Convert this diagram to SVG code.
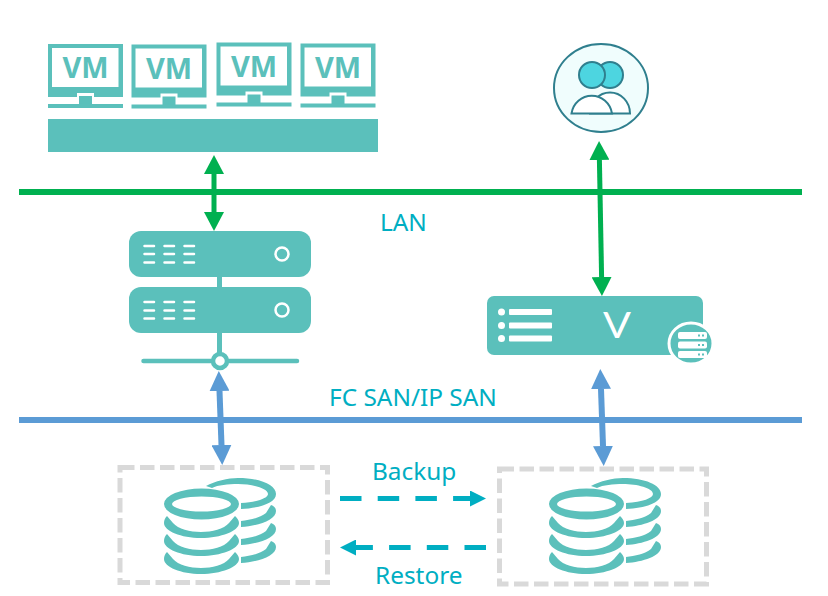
<svg xmlns="http://www.w3.org/2000/svg" xmlns:xlink="http://www.w3.org/1999/xlink" width="828" height="596" viewBox="0 0 828 596">
  <style>
    .teal { fill: #5bc0bb; }
    .white { fill: #ffffff; }
    .label { font-family: "Noto Sans", "Open Sans", sans-serif; font-size: 24.400px; fill: #00aec2; }
    .vm { font-family: "Open Sans", "Liberation Sans", sans-serif; font-weight: 700; font-size: 29px; fill: #5bc0bb; text-anchor: middle; }
    .box { fill: none; stroke: #d9d9d9; stroke-width: 5; stroke-dasharray: 14.500 5.500; }
    .bus { stroke-width: 6; fill: none; }
    .lan { stroke: #00b050; }
    .san { stroke: #5b9bd5; }
    .dash { stroke: #00aec2; stroke-width: 5; stroke-dasharray: 21.5 16.2; fill: none; }
    .tick { stroke: #ffffff; stroke-width: 2.500; stroke-linecap: round; fill: none; }
  </style>
  <defs>
    <marker id="headGreen" markerUnits="userSpaceOnUse" markerWidth="20" markerHeight="20" refX="0" refY="10" orient="auto-start-reverse">
      <path d="M0,0 L19,10 L0,20 Z" fill="#00b050"/>
    </marker>
    <marker id="headBlue" markerUnits="userSpaceOnUse" markerWidth="20" markerHeight="20" refX="0" refY="10" orient="auto-start-reverse">
      <path d="M0,0 L20,10 L0,20 Z" fill="#5b9bd5"/>
    </marker>
    <marker id="headCyan" markerUnits="userSpaceOnUse" markerWidth="16" markerHeight="16" refX="0" refY="8" orient="auto">
      <path d="M0,0 L16,8 L0,16 Z" fill="#00aec2"/>
    </marker>
    <g id="monitor">
      <rect class="teal" x="0" y="0" width="75" height="53"/>
      <rect class="white" x="4" y="4" width="66.500" height="39"/>
      <rect class="white" x="29" y="49" width="17" height="5"/>
      <rect class="teal" x="31" y="52" width="13" height="9"/>
      <rect class="teal" x="0" y="60" width="75" height="4"/>
    </g>
    <g id="drum">
      <path class="teal" fill-rule="evenodd" d="M164,504 A37.500,15.500 0 1 1 239,504 A37.500,15.500 0 1 1 164,504 Z M172,504 A29.500,7.500 0 1 0 231,504 A29.500,7.500 0 1 0 172,504 Z"/>
      <g id="tierFront">
        <path class="teal" d="M164,523 C164,531 181,538 201,538 C221,538 239,531 239,523 C239,520 237,518 235,516 L229,523 C224,529 212,532 201,532 C190,532 178,529 173,523 L167,516 C165,518 164,520 164,523 Z"/>
      </g>
      <use xlink:href="#tierFront" href="#tierFront" y="18"/>
      <use xlink:href="#tierFront" href="#tierFront" y="36"/>
      <path class="teal" d="M206,486 C215,481 228,478 238,478 C260,478 276,485 276,494 C276,503 260,508 241,509 L241,503 C258,502 268,498 268,494 C268,488 252,484 238,484 C228,484 218,485 212,488 Z"/>
      <g id="tierBack">
        <path class="teal" d="M241,527 C258,526 276,520 276,511 C276,508 274,506 271,505 L266,513 C260,518 250,520 241,521 Z"/>
      </g>
      <use xlink:href="#tierBack" href="#tierBack" y="18"/>
      <use xlink:href="#tierBack" href="#tierBack" y="36"/>
    </g>
  </defs>

  <g id="vm-host">
    <g id="vm-1"><use xlink:href="#monitor" href="#monitor" x="48" y="44"/><text class="vm" x="85.500" y="78">VM</text></g>
    <g id="vm-2"><use xlink:href="#monitor" href="#monitor" x="131.500" y="44.500"/><text class="vm" x="169" y="79">VM</text></g>
    <g id="vm-3"><use xlink:href="#monitor" href="#monitor" x="216.500" y="42.500"/><text class="vm" x="254" y="77">VM</text></g>
    <g id="vm-4"><use xlink:href="#monitor" href="#monitor" x="300.500" y="43.500"/><text class="vm" x="338" y="78">VM</text></g>
    <rect class="teal" x="48" y="119" width="330" height="33"/>
  </g>

  <g id="user">
    <ellipse cx="601" cy="88" rx="47" ry="44" fill="#f0fdfd" stroke="#2f7f8e" stroke-width="2"/>
    <circle cx="610" cy="75" r="13" fill="#4dd5e0" stroke="#2f7f8e" stroke-width="2"/>
    <circle cx="592" cy="75" r="13" fill="#4dd5e0" stroke="#2f7f8e" stroke-width="2"/>
    <path d="M590,113.500 A20,21 0 0 1 630,113.500 Z" fill="#ffffff" stroke="#2f7f8e" stroke-width="2"/>
    <path d="M571.500,113.500 A20.500,21 0 0 1 612,113.500 Z" fill="#ffffff" stroke="#2f7f8e" stroke-width="2"/>
  </g>

  <g id="app-server">
    <rect class="teal" x="217" y="270" width="5" height="90"/>
    <rect class="teal" x="129" y="231" width="182" height="46" rx="12"/>
    <rect class="teal" x="129" y="287" width="182" height="46" rx="12"/>
    <path class="tick" d="M144.500,246H154M164.500,246H174M184.500,246H194M144.500,254H154M164.500,254H174M184.500,254H194M144.500,262.500H154M164.500,262.500H174M184.500,262.500H194"/>
    <path class="tick" d="M144.500,302H154M164.500,302H174M184.500,302H194M144.500,310.500H154M164.500,310.500H174M184.500,310.500H194M144.500,318.500H154M164.500,318.500H174M184.500,318.500H194"/>
    <circle cx="282" cy="254" r="6.500" fill="#5bc0bb" stroke="#ffffff" stroke-width="2.500"/>
    <circle cx="282" cy="310" r="6.500" fill="#5bc0bb" stroke="#ffffff" stroke-width="2.500"/>
    <line x1="143.500" y1="361" x2="297" y2="361" stroke="#5bc0bb" stroke-width="4.500" stroke-linecap="round"/>
    <circle cx="220" cy="361" r="7" fill="#ffffff" stroke="#5bc0bb" stroke-width="4.500"/>
  </g>

  <g id="backup-server">
    <rect class="teal" x="487" y="296" width="216" height="59" rx="7"/>
    <circle class="white" cx="501.500" cy="312" r="3.500"/>
    <circle class="white" cx="501.500" cy="325.500" r="3.500"/>
    <circle class="white" cx="501.500" cy="338.500" r="3.500"/>
    <rect class="white" x="509" y="309" width="43" height="6" rx="1"/>
    <rect class="white" x="509" y="322.500" width="43" height="6" rx="1"/>
    <rect class="white" x="509" y="335.500" width="43" height="6" rx="1"/>
    <text x="603" y="338" font-family="Lato, 'Open Sans', sans-serif" font-size="36" font-weight="400" fill="#ffffff" textLength="28" lengthAdjust="spacingAndGlyphs">V</text>
    <ellipse cx="691" cy="343.500" rx="22" ry="20.500" fill="#5bc0bb" stroke="#ffffff" stroke-width="3"/>
    <rect class="white" x="678" y="332" width="29" height="7" rx="2"/>
    <rect class="white" x="678" y="341.500" width="29" height="7" rx="2"/>
    <rect class="white" x="678" y="351" width="29" height="7" rx="2"/>
    <path d="M698,335.500h2M702,335.500h2M698,345h2M702,345h2M698,354.500h2M702,354.500h2" stroke="#5bc0bb" stroke-width="2" fill="none"/>
  </g>

  <g id="primary-storage">
    <rect class="box" x="120" y="467.500" width="207.500" height="115"/>
    <use xlink:href="#drum" href="#drum"/>
  </g>

  <g id="backup-storage">
    <rect class="box" x="499.500" y="469" width="207" height="115"/>
    <use xlink:href="#drum" href="#drum" x="385"/>
  </g>

  <g id="connectors">
    <line class="bus lan" x1="19" y1="192" x2="802" y2="192"/>
    <line class="bus san" x1="19" y1="420" x2="802" y2="420"/>
    <line x1="214" y1="174" x2="214" y2="212" stroke="#00b050" stroke-width="5" marker-start="url(#headGreen)" marker-end="url(#headGreen)"/>
    <line x1="599.400" y1="160" x2="601.600" y2="277" stroke="#00b050" stroke-width="5" marker-start="url(#headGreen)" marker-end="url(#headGreen)"/>
    <line x1="219.500" y1="391" x2="221.500" y2="445" stroke="#5b9bd5" stroke-width="6" marker-start="url(#headBlue)" marker-end="url(#headBlue)"/>
    <line x1="601" y1="389" x2="603" y2="446" stroke="#5b9bd5" stroke-width="6" marker-start="url(#headBlue)" marker-end="url(#headBlue)"/>
    <line class="dash" x1="340" y1="498.500" x2="470" y2="498.500" marker-end="url(#headCyan)"/>
    <line class="dash" x1="486" y1="547.500" x2="356" y2="547.500" marker-end="url(#headCyan)"/>
  </g>

  <g id="labels">
    <text class="label" x="380" y="231">LAN</text>
    <text class="label" x="329" y="406">FC SAN/IP SAN</text>
    <text class="label" x="372" y="480">Backup</text>
    <text class="label" x="375" y="584">Restore</text>
  </g>
</svg>
